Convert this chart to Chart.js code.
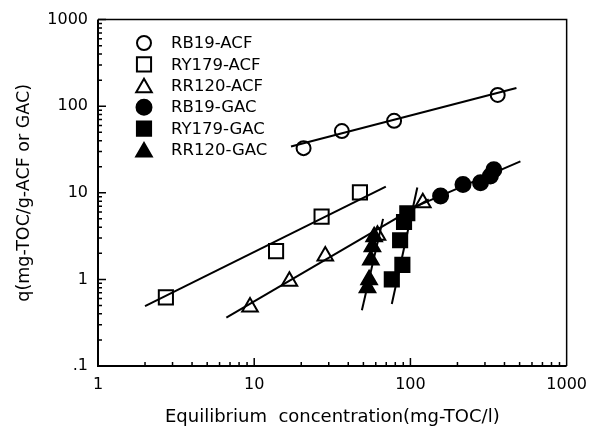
<!DOCTYPE html>
<html lang="en">
<head>
    <meta charset="UTF-8">
    <title>Adsorption isotherms</title>
    <script src="https://cdn.jsdelivr.net/npm/chart.js@4.4.3/dist/chart.umd.min.js"></script>
    <style>
        body { margin: 0; background: #fff; }
        #wrap { width: 596px; height: 428px; position: relative; }
    </style>
</head>
<body>
    <div id="wrap"><canvas id="iso-chart"></canvas></div>

    <script>
        // axis ticks
        const xTicks = [1, 10, 100, 1000];
        const xTickLabels = ['1', '10', '100', '1000'];
        const yTicks = [0.1, 1, 10, 100, 1000];
        const yTickLabels = ['.1', '1', '10', '100', '1000'];

        // measured points (equilibrium conc. vs q)
        const rb19AcfX = [20.7, 36.4, 78.6, 362];
        const rb19AcfY = [32.8, 51.6, 67.8, 135];
        const ry179AcfX = [2.72, 13.8, 27.0, 47.5];
        const ry179AcfY = [0.62, 2.12, 5.3, 10.1];
        const rr120AcfX = [9.4, 16.8, 28.5, 61.5, 120];
        const rr120AcfY = [0.48, 0.95, 1.86, 3.23, 7.7];
        const rb19GacX = [156, 217, 281, 325, 342];
        const rb19GacY = [9.2, 12.5, 13.1, 15.6, 18.5];
        const ry179GacX = [76, 88.8, 85.9, 91, 95.5];
        const ry179GacY = [1.0, 1.47, 2.83, 4.6, 5.8];
        const rr120GacX = [53.1, 54.4, 55.8, 57.1, 58.6];
        const rr120GacY = [0.80, 0.99, 1.68, 2.38, 3.1];

        // Freundlich fit lines (end points)
        const rb19AcfFitX = [17.2, 477];
        const rb19AcfFitY = [34.3, 162];
        const ry179AcfFitX = [2.0, 69.6];
        const ry179AcfFitY = [0.49, 11.8];
        const rr120AcfFitX = [6.63, 131];
        const rr120AcfFitY = [0.362, 8.4];
        const rb19GacFitX = [105, 506];
        const rb19GacFitY = [6.8, 23.1];
        const ry179GacFitX = [76, 110.7];
        const ry179GacFitY = [0.52, 11.5];
        const rr120GacFitX = [48.9, 66.8];
        const rr120GacFitY = [0.44, 5.0];

        const FONT = 'DejaVu Sans';

        function pts(xs, ys) {
            return xs.map((x, i) => ({ x: x, y: ys[i] }));
        }

        function markers(label, xs, ys, style, filled, radius) {
            return {
                label: label,
                data: pts(xs, ys),
                showLine: false,
                pointStyle: style,
                pointRadius: radius,
                pointBorderWidth: 2,
                pointBorderColor: '#000',
                pointBackgroundColor: filled ? '#000' : 'rgba(0,0,0,0)',
                order: 1
            };
        }

        function fitLine(xs, ys) {
            return {
                label: '',
                data: pts(xs, ys),
                showLine: true,
                borderColor: '#000',
                borderWidth: 2,
                pointRadius: 0,
                fill: false,
                order: 2
            };
        }

        // box, inward tick marks and the legend
        const frame = {
            id: 'frame',
            afterDraw(chart) {
                const ctx = chart.ctx;
                const a = chart.chartArea;
                const xs = chart.scales.x, ys = chart.scales.y;
                ctx.save();
                ctx.strokeStyle = '#000';
                ctx.lineWidth = 1.5;
                ctx.beginPath();
                ctx.moveTo(a.left, a.top); ctx.lineTo(a.right, a.top); ctx.lineTo(a.right, a.bottom);
                ctx.stroke();
                ctx.lineWidth = 2;
                ctx.beginPath();
                ctx.moveTo(a.left, a.top); ctx.lineTo(a.left, a.bottom); ctx.lineTo(a.right, a.bottom);
                ctx.stroke();

                ctx.lineWidth = 1.5;
                ctx.beginPath();
                for (let d = 0; d < yTicks.length - 1; d++) {
                    for (let k = 1; k < 10; k++) {
                        const py = ys.getPixelForValue(yTicks[d] * k);
                        const len = k === 1 ? 8 : 4;
                        ctx.moveTo(a.left, py); ctx.lineTo(a.left + len, py);
                    }
                }
                const yt = ys.getPixelForValue(yTicks[yTicks.length - 1]);
                ctx.moveTo(a.left, yt); ctx.lineTo(a.left + 8, yt);
                for (let d = 0; d < xTicks.length - 1; d++) {
                    for (let k = 1; k < 10; k++) {
                        const px = xs.getPixelForValue(xTicks[d] * k);
                        const len = k === 1 ? 8 : 4;
                        ctx.moveTo(px, a.bottom); ctx.lineTo(px, a.bottom - len);
                    }
                }
                ctx.stroke();

                // legend
                const items = chart.data.datasets.filter(ds => ds.label);
                ctx.font = '16.5px "' + FONT + '"';
                ctx.fillStyle = '#000';
                ctx.textBaseline = 'middle';
                items.forEach((ds, i) => {
                    const cy = 43 + i * 21.4;
                    ctx.lineWidth = 2;
                    ctx.strokeStyle = '#000';
                    ctx.fillStyle = ds.pointBackgroundColor;
                    const off = ds.pointStyle === 'triangle' ? 2 : 0;
                    Chart.helpers.drawPoint(ctx, { pointStyle: ds.pointStyle, radius: ds.pointRadius, borderWidth: 2 }, 144, cy + off);
                    ctx.fillStyle = '#000';
                    ctx.fillText(ds.label, 171, cy + 1);
                });
                ctx.restore();
            }
        };

        new Chart(document.getElementById('iso-chart'), {
            type: 'scatter',
            data: {
                datasets: [
                    markers('RB19-ACF', rb19AcfX, rb19AcfY, 'circle', false, 7),
                    markers('RY179-ACF', ry179AcfX, ry179AcfY, 'rect', false, 10),
                    markers('RR120-ACF', rr120AcfX, rr120AcfY, 'triangle', false, 9),
                    markers('RB19-GAC', rb19GacX, rb19GacY, 'circle', true, 7.5),
                    markers('RY179-GAC', ry179GacX, ry179GacY, 'rect', true, 10),
                    markers('RR120-GAC', rr120GacX, rr120GacY, 'triangle', true, 9),
                    fitLine(rb19AcfFitX, rb19AcfFitY),
                    fitLine(ry179AcfFitX, ry179AcfFitY),
                    fitLine(rr120AcfFitX, rr120AcfFitY),
                    fitLine(rb19GacFitX, rb19GacFitY),
                    fitLine(ry179GacFitX, ry179GacFitY),
                    fitLine(rr120GacFitX, rr120GacFitY)
                ]
            },
            options: {
                responsive: true,
                maintainAspectRatio: false,
                animation: false,
                layout: { padding: { top: 15, right: 28, left: 0, bottom: 0 } },
                plugins: { legend: { display: false }, tooltip: { enabled: false } },
                scales: {
                    x: {
                        type: 'logarithmic',
                        min: 1, max: 1000,
                        afterBuildTicks: s => { s.ticks = xTicks.map(v => ({ value: v })); },
                        afterFit: s => { s.height = 62; },
                        grid: { display: false, drawTicks: false },
                        border: { display: false },
                        ticks: {
                            autoSkip: false, maxRotation: 0, padding: 9,
                            color: '#000', font: { family: FONT, size: 16 },
                            callback: (v, i) => xTickLabels[i]
                        },
                        title: {
                            display: true, text: 'Equilibrium  concentration(mg-TOC/l)',
                            color: '#000', font: { family: FONT, size: 18 }, padding: 0
                        }
                    },
                    y: {
                        type: 'logarithmic',
                        min: 0.1, max: 1000,
                        afterBuildTicks: s => { s.ticks = yTicks.map(v => ({ value: v })); },
                        afterFit: s => { s.width = 98; },
                        grid: { display: false, drawTicks: false },
                        border: { display: false },
                        ticks: {
                            autoSkip: false, padding: 10,
                            color: '#000', font: { family: FONT, size: 16 },
                            callback: (v, i) => yTickLabels[i]
                        },
                        title: {
                            display: true, text: 'q(mg-TOC/g-ACF or GAC)',
                            color: '#000', font: { family: FONT, size: 17.5 }, padding: { top: 14, bottom: 0 }
                        }
                    }
                }
            },
            plugins: [frame]
        });
    </script>
</body>
</html>
